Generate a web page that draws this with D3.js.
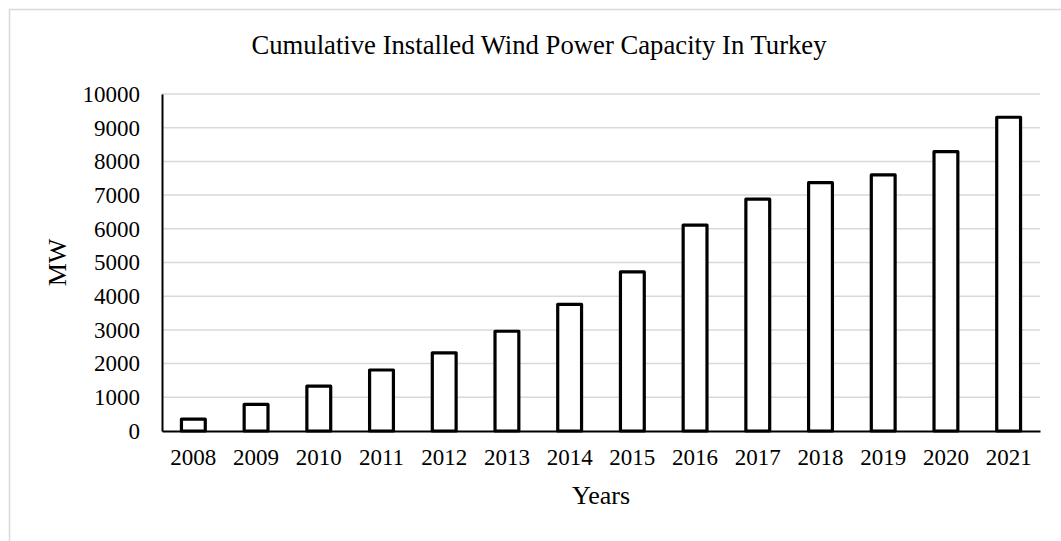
<!DOCTYPE html>
<html>
<head>
<meta charset="utf-8">
<script src="https://cdn.jsdelivr.net/npm/d3@7"></script>
<style>
  html, body { margin: 0; padding: 0; background: #fff; }
  svg { display: block; }
  text { font-family: "Liberation Serif", "Times New Roman", serif; fill: #000; }
</style>
</head>
<body>
<svg id="chart" width="1061" height="541"></svg>
<script>
// Cumulative installed wind power capacity in Turkey (MW)
const years = ["2008", "2009", "2010", "2011", "2012", "2013", "2014",
               "2015", "2016", "2017", "2018", "2019", "2020", "2021"];
const capacityMW = [350, 790, 1330, 1810, 2320, 2960, 3760,
                    4720, 6110, 6880, 7370, 7600, 8290, 9310];
const yTicks = [0, 1000, 2000, 3000, 4000, 5000, 6000, 7000, 8000, 9000, 10000];

const titleText = "Cumulative Installed Wind Power Capacity In Turkey";
const xTitle = "Years";
const yTitle = "MW";

const svg = d3.select("#chart");
const W = 1061, H = 541;
const plot = { left: 162, right: 1040, top: 94, bottom: 431 };

// outer chart frame (top and left edges visible)
svg.append("path")
  .attr("d", `M9.5,${H} V9.5 H${W}`)
  .attr("fill", "none")
  .attr("stroke", "#d9d9d9")
  .attr("stroke-width", 1.5);

const x = d3.scaleBand()
  .domain(years)
  .range([plot.left, plot.right])
  .paddingInner(0.62)
  .paddingOuter(0.31);

const y = d3.scaleLinear()
  .domain([0, 10000])
  .range([plot.bottom, plot.top]);

// horizontal gridlines
svg.append("g")
  .selectAll("line")
  .data(yTicks.filter(t => t > 0))
  .join("line")
  .attr("x1", plot.left)
  .attr("x2", plot.right)
  .attr("y1", d => y(d))
  .attr("y2", d => y(d))
  .attr("stroke", "#d9d9d9")
  .attr("stroke-width", 1.5);

// y axis
const yAxis = svg.append("g")
  .attr("transform", `translate(${plot.left},0)`)
  .call(d3.axisLeft(y).tickValues(yTicks).tickSize(0).tickPadding(22).tickFormat(d3.format("d")));
yAxis.select(".domain").attr("stroke", "#000").attr("stroke-width", 2);
yAxis.selectAll("text")
  .style("font-family", "'Liberation Serif', 'Times New Roman', serif")
  .style("font-size", "23px")
  .attr("fill", "#000");

// bars
svg.append("g")
  .selectAll("rect")
  .data(years.map((yr, i) => ({ yr, v: capacityMW[i] })))
  .join("rect")
  .attr("x", d => x(d.yr))
  .attr("width", x.bandwidth())
  .attr("y", d => y(d.v))
  .attr("height", d => y(0) - y(d.v))
  .attr("fill", "#fff")
  .attr("stroke", "#000")
  .attr("stroke-width", 3.2)
  .attr("stroke-linejoin", "round");

// x axis
const xAxis = svg.append("g")
  .attr("transform", `translate(0,${plot.bottom})`)
  .call(d3.axisBottom(x).tickSize(0).tickPadding(18));
xAxis.select(".domain").attr("stroke", "#000").attr("stroke-width", 2);
xAxis.selectAll("text")
  .style("font-family", "'Liberation Serif', 'Times New Roman', serif")
  .style("font-size", "23px")
  .attr("fill", "#000");

// titles
svg.append("text")
  .attr("x", 539)
  .attr("y", 54)
  .attr("text-anchor", "middle")
  .style("font-size", "26.7px")
  .text(titleText);

svg.append("text")
  .attr("x", (plot.left + plot.right) / 2)
  .attr("y", 504)
  .attr("text-anchor", "middle")
  .style("font-size", "26px")
  .text(xTitle);

svg.append("text")
  .attr("transform", `translate(66,${(plot.top + plot.bottom) / 2}) rotate(-90)`)
  .attr("text-anchor", "middle")
  .style("font-size", "26px")
  .text(yTitle);
</script>
</body>
</html>
